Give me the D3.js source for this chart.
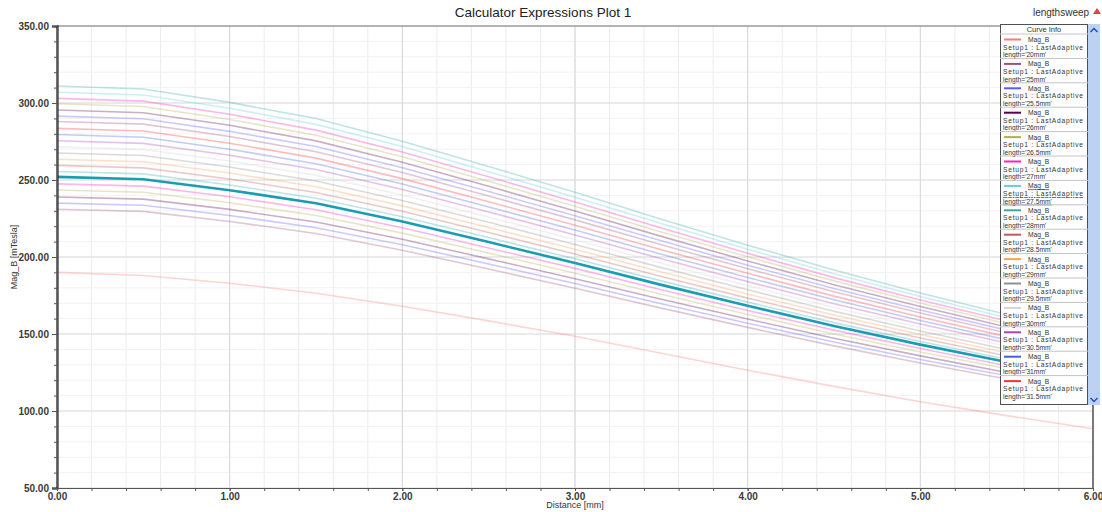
<!DOCTYPE html>
<meta charset="utf-8">
<script src="https://cdnjs.cloudflare.com/ajax/libs/d3/7.8.5/d3.min.js"></script>
<style>
  body { margin: 0; background: #fff; }
  text { font-family: Arial, "Liberation Sans", sans-serif; }
</style>
<div id="chart"></div>
<script>

// x positions along the line (mm)
var distance = [0, 0.5, 1, 1.5, 2, 2.5, 3, 3.5, 4, 4.5, 5, 5.5, 6];

// sweep values
var lengths = ["20mm", "25mm", "25.5mm", "26mm", "26.5mm", "27mm", "27.5mm", "28mm", "28.5mm",
               "29mm", "29.5mm", "30mm", "30.5mm", "31mm", "31.5mm", "32mm", "32.5mm", "33mm",
               "33.5mm", "34mm", "34.5mm", "35mm"];

// Mag_B [mTesla], one row per length
var magB = [
  [190, 188, 183, 176.5, 168, 158.5, 148.5, 137.5, 126.5, 116, 106, 97, 88.5],
  [231, 229.6, 223.1, 215.3, 204.4, 192.2, 179.7, 166.8, 154.3, 142.3, 131.2, 120.8, 111.1],
  [235, 233.6, 227.0, 219.0, 208.0, 195.5, 182.8, 169.7, 157.0, 144.8, 133.5, 122.9, 113.0],
  [239, 237.6, 230.9, 222.7, 211.5, 198.8, 185.9, 172.6, 159.7, 147.2, 135.8, 125.0, 115.0],
  [243.5, 242.0, 235.2, 226.9, 215.5, 202.6, 189.4, 175.8, 162.7, 150.0, 138.3, 127.4, 117.1],
  [247.5, 246.0, 239.1, 230.7, 219.0, 205.9, 192.6, 178.7, 165.3, 152.5, 140.6, 129.4, 119.0],
  [252, 250.5, 243.4, 234.9, 223.0, 209.7, 196.1, 181.9, 168.3, 155.2, 143.1, 131.8, 121.2],
  [255.5, 254.0, 246.8, 238.1, 226.1, 212.6, 198.8, 184.5, 170.7, 157.4, 145.1, 133.6, 122.9],
  [259.5, 257.9, 250.7, 241.9, 229.7, 215.9, 201.9, 187.4, 173.3, 159.9, 147.4, 135.7, 124.8],
  [263.5, 261.9, 254.5, 245.6, 233.2, 219.2, 205.0, 190.2, 176.0, 162.3, 149.7, 137.8, 126.7],
  [267.5, 265.9, 258.4, 249.3, 236.7, 222.6, 208.1, 193.1, 178.7, 164.8, 151.9, 139.9, 128.7],
  [271.5, 269.9, 262.3, 253.0, 240.3, 225.9, 211.2, 196.0, 181.4, 167.2, 154.2, 142.0, 130.6],
  [275.5, 273.8, 266.1, 256.8, 243.8, 229.2, 214.3, 198.9, 184.0, 169.7, 156.5, 144.1, 132.5],
  [279.5, 277.8, 270.0, 260.5, 247.4, 232.5, 217.5, 201.8, 186.7, 172.2, 158.8, 146.2, 134.4],
  [283.5, 281.8, 273.9, 264.2, 250.9, 235.9, 220.6, 204.7, 189.4, 174.6, 161.0, 148.3, 136.4],
  [288, 286.3, 278.2, 268.4, 254.9, 239.6, 224.1, 207.9, 192.4, 177.4, 163.6, 150.6, 138.5],
  [291.5, 289.8, 281.6, 271.7, 258.0, 242.5, 226.8, 210.5, 194.7, 179.6, 165.6, 152.5, 140.2],
  [295.5, 293.7, 285.5, 275.4, 261.5, 245.9, 229.9, 213.4, 197.4, 182.0, 167.8, 154.5, 142.1],
  [299.5, 297.7, 289.3, 279.1, 265.1, 249.2, 233.0, 216.2, 200.1, 184.5, 170.1, 156.6, 144.1],
  [303, 301.2, 292.7, 282.4, 268.2, 252.1, 235.7, 218.8, 202.4, 186.6, 172.1, 158.5, 145.7],
  [307, 305.2, 296.6, 286.1, 271.7, 255.4, 238.8, 221.7, 205.1, 189.1, 174.4, 160.6, 147.7],
  [311, 309.1, 300.4, 289.9, 275.2, 258.8, 242.0, 224.5, 207.7, 191.6, 176.6, 162.7, 149.6]
];

var selected = "27.5mm";

// tick values
var yTicks = [50, 100, 150, 200, 250, 300, 350];
var xTicks = [0, 1, 2, 3, 4, 5, 6];

// curve colours (legend order)
var colors = ["#ff7878", "#a0507a", "#5a5aff", "#5a0050", "#b0b050", "#ff20b8", "#5cd0dc",
              "#3aa8a8", "#c05858", "#ffa050", "#909090", "#d4d4d4", "#b040b0", "#4060e0",
              "#ff3030", "#a0507a", "#5a5aff", "#5a0050", "#b0b050", "#ff20b8", "#5cd0dc", "#3aa8a8"];

var margin = {top: 26, right: 9, bottom: 24, left: 57},
    width = 1102 - margin.left - margin.right,
    height = 512 - margin.top - margin.bottom;

var root = d3.select("#chart")
  .append("svg")
    .attr("width", 1102)
    .attr("height", 512);

var svg = root.append("g")
    .attr("transform", "translate(" + margin.left + "," + margin.top + ")");

var x = d3.scaleLinear().domain([0, 6]).range([0, width]);
var y = d3.scaleLinear().domain([50, 350]).range([height, 0]);

var xMinor = d3.range(0, 6.001, 0.2).map(function(v) { return +v.toFixed(1); });
var yMinor = d3.range(50, 351, 10);

// grid, minor then major
svg.append("g").selectAll("line").data(xMinor).enter().append("line")
  .attr("x1", function(d) { return x(d); }).attr("x2", function(d) { return x(d); })
  .attr("y1", 0).attr("y2", height)
  .attr("stroke", "#ececec");
svg.append("g").selectAll("line").data(yMinor).enter().append("line")
  .attr("y1", function(d) { return y(d); }).attr("y2", function(d) { return y(d); })
  .attr("x1", 0).attr("x2", width)
  .attr("stroke", "#f2f2f2");
svg.append("g").selectAll("line").data(xTicks).enter().append("line")
  .attr("x1", function(d) { return x(d); }).attr("x2", function(d) { return x(d); })
  .attr("y1", 0).attr("y2", height)
  .attr("stroke", "#d6d6d6");
svg.append("g").selectAll("line").data(yTicks).enter().append("line")
  .attr("y1", function(d) { return y(d); }).attr("y2", function(d) { return y(d); })
  .attr("x1", 0).attr("x2", width)
  .attr("stroke", "#dcdcdc");

// top + right frame
svg.append("line").attr("x1", 0).attr("x2", width).attr("y1", 0).attr("y2", 0)
  .attr("stroke", "#a0a0a0").attr("stroke-width", 1.5);
svg.append("line").attr("x1", width).attr("x2", width).attr("y1", 0).attr("y2", height)
  .attr("stroke", "#555").attr("stroke-width", 1.5);

// curves
svg.append("clipPath").attr("id", "clip")
  .append("rect").attr("width", width).attr("height", height);

var line = d3.line()
  .x(function(d, i) { return x(distance[i]); })
  .y(function(d) { return y(d); });

var plot = svg.append("g").attr("clip-path", "url(#clip)");
lengths.forEach(function(len, i) {
  if (len === selected) return;
  plot.append("path")
    .attr("d", line(magB[i]))
    .attr("fill", "none")
    .attr("stroke", colors[i])
    .attr("stroke-opacity", 0.32)
    .attr("stroke-width", 1.6);
});
var si = lengths.indexOf(selected);
plot.append("path")
  .attr("d", line(magB[si]))
  .attr("fill", "none")
  .attr("stroke", "#1a9db2")
  .attr("stroke-width", 2.6);

// axes
var fmt = d3.format(".2f");
var yAxis = svg.append("g")
  .call(d3.axisLeft(y).tickValues(yTicks).tickFormat(fmt).tickSize(5).tickPadding(3));
svg.append("g")
  .call(d3.axisLeft(y).tickValues(yMinor).tickFormat("").tickSize(3));
var xAxis = svg.append("g")
  .attr("transform", "translate(0," + height + ")")
  .call(d3.axisBottom(x).tickValues(xTicks).tickFormat(fmt).tickSize(3).tickPadding(2));
svg.append("g")
  .attr("transform", "translate(0," + height + ")")
  .call(d3.axisBottom(x).tickValues(xMinor).tickFormat("").tickSize(3));

svg.selectAll(".domain").attr("stroke", "#555");
yAxis.select(".domain").attr("stroke", "#000").attr("stroke-width", 2);
svg.selectAll(".tick line").attr("stroke", "#555");
svg.selectAll(".tick text").attr("fill", "#3a3a3a").style("font-size", "10px")
  .style("font-family", "Arial, 'Liberation Sans', sans-serif").style("font-weight", "bold");

// labels
root.append("text")
  .attr("x", 543).attr("y", 17)
  .attr("text-anchor", "middle")
  .style("font-size", "13.5px").attr("fill", "#222")
  .text("Calculator Expressions Plot 1");

root.append("text")
  .attr("x", margin.left + width / 2).attr("y", 508)
  .attr("text-anchor", "middle")
  .style("font-size", "9px").attr("fill", "#333")
  .text("Distance [mm]");

root.append("text")
  .attr("transform", "translate(17," + (margin.top + height / 2) + ") rotate(-90)")
  .attr("text-anchor", "middle")
  .style("font-size", "9px").attr("fill", "#333")
  .text("Mag_B [mTesla]");

root.append("text")
  .attr("x", 1061).attr("y", 16)
  .attr("text-anchor", "middle")
  .style("font-size", "10px").attr("fill", "#333")
  .text("lengthsweep");
root.append("path")
  .attr("d", "M1093,14 L1097,8 L1101,14 Z")
  .attr("fill", "#d04848");

// legend box (scrolled list, only the first entries are visible)
var lg = root.append("g").attr("transform", "translate(1000,24)");
lg.append("rect").attr("width", 100).attr("height", 381)
  .attr("fill", "#fff");
lg.append("rect").attr("x", 88).attr("width", 12).attr("height", 381)
  .attr("fill", "#bcd2f2");
lg.append("path").attr("d", "M90.5,8 L94,4.5 L97.5,8")
  .attr("fill", "none").attr("stroke", "#2050c0").attr("stroke-width", 1.5);
lg.append("path").attr("d", "M90.5,374 L94,377.5 L97.5,374")
  .attr("fill", "none").attr("stroke", "#2050c0").attr("stroke-width", 1.5);
lg.append("rect").attr("x", 0.5).attr("y", 0.5).attr("width", 87).attr("height", 380)
  .attr("fill", "none").attr("stroke", "#505050");
lg.append("text").attr("x", 44).attr("y", 8)
  .attr("text-anchor", "middle").style("font-size", "7.5px").attr("fill", "#333")
  .text("Curve Info");

var rowH = 24.4;
var visible = lengths.slice(0, 15);
var rows = lg.selectAll("g.row").data(visible).enter().append("g")
  .attr("class", "row")
  .attr("transform", function(d, i) { return "translate(0," + (10 + i * rowH) + ")"; });
rows.append("line").attr("x1", 0).attr("x2", 88).attr("y1", 0).attr("y2", 0)
  .attr("stroke", "#c4c4c4");
rows.append("line").attr("x1", 4).attr("x2", 21).attr("y1", 5.5).attr("y2", 5.5)
  .attr("stroke", function(d, i) { return colors[i]; }).attr("stroke-width", 2);
rows.append("text").attr("x", 28).attr("y", 8).text("Mag_B");
rows.append("text").attr("x", 3).attr("y", 15.7).text("Setup1 : LastAdaptive");
rows.append("text").attr("x", 3).attr("y", 23.2).text(function(d) { return "length='" + d + "'"; });
rows.selectAll("text").style("font-size", "6.7px").attr("fill", "#333")
  .attr("textLength", function() { return null; });
rows.selectAll("text").filter(function(d, i) { return i === 1; })
  .attr("textLength", 80).attr("lengthAdjust", "spacing");
rows.filter(function(d) { return d === selected; }).selectAll("text")
  .style("text-decoration", "underline");

</script>
